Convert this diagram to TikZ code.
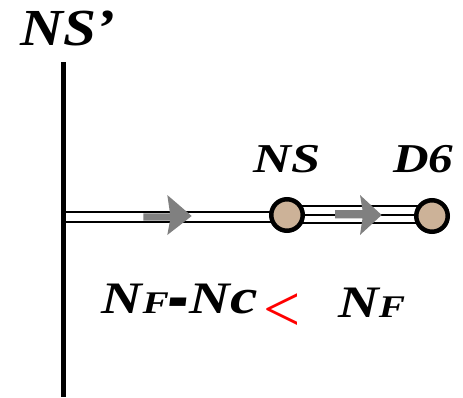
\documentclass[tikz,border=0pt]{standalone}
\usepackage{fontspec}
\setmainfont{Liberation Serif}
\definecolor{nodetan}{RGB}{204,178,152}
\definecolor{arrgray}{RGB}{128,128,128}
\begin{document}
\begin{tikzpicture}[x=1pt,y=-1pt,
  lbl/.style={inner sep=0pt, anchor=base west},
  dot/.style={circle, draw=black, line width=4.5pt, fill=nodetan, minimum size=31.5pt, inner sep=0pt},
  rail/.style={line width=2pt},
  flowarrow/.style={fill=arrgray}]
\useasboundingbox (0,0) rectangle (463,397);
% coordinates
\coordinate (vt) at (63.5,62);
\coordinate (vb) at (63.5,397);
\coordinate (nsc) at (287,215);
\coordinate (d6c) at (432,216);
% rails
\draw[rail] (vt |- 0,212.3) -- (nsc |- 0,212.3);
\draw[rail] (vt |- 0,222.3) -- (nsc |- 0,222.3);
\draw[rail] (nsc |- 0,206) -- (d6c |- 0,206);
\draw[rail] (nsc |- 0,214.5) -- (d6c |- 0,214.5);
\draw[rail] (nsc |- 0,223) -- (d6c |- 0,223);
% vertical line
\draw[line width=5pt] (vt) -- (vb);
% gray arrows
\fill[flowarrow] (143.3,213.3) -- (170,213.3) -- (167.3,195) -- (191.7,216) -- (167.3,235) -- (170,220.7) -- (143.3,220.7) -- cycle;
\fill[flowarrow] (335,210) -- (362.5,210) -- (360,195) -- (381.7,215) -- (360,235) -- (362.5,218.3) -- (335,218.3) -- cycle;
% nodes
\node[dot] (ns) at (nsc) {};
\node[dot] (d6) at (d6c) {};
% labels
\node[lbl, xscale=1.14, font={\bfseries\itshape\fontsize{52}{52}\selectfont}] (nsp) at (20,45) {NS’};
\node[lbl, xscale=1.28, font={\bfseries\itshape\fontsize{41}{41}\selectfont}] (nsl) at (253,172) {NS};
\node[lbl, xscale=1.2, font={\bfseries\itshape\fontsize{41}{41}\selectfont}] (d6l) at (393,172) {D6};
\node[lbl, xscale=1.25, font={\bfseries\itshape\fontsize{45}{45}\selectfont}] (left) at (101.7,313) {N{\fontsize{31.5}{31.5}\selectfont F}\raisebox{-12pt}{\scalebox{1.1}[2.2]{-}}N\scalebox{1.1}{c}};
\node[lbl, text=red, font={\fontsize{66}{66}\selectfont}] (lt) at (263,331) {<};
\node[lbl, xscale=1.25, font={\bfseries\itshape\fontsize{45}{45}\selectfont}] (right) at (338,317) {N{\fontsize{31.5}{31.5}\selectfont F}};
\end{tikzpicture}
\end{document}
